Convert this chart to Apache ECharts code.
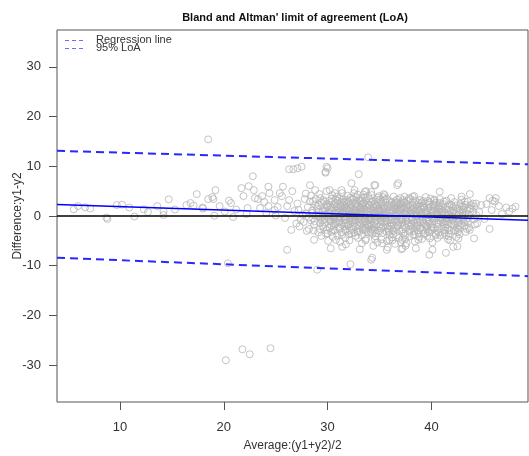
<!DOCTYPE html>
<html><head><meta charset="utf-8">
<script src="https://cdn.jsdelivr.net/npm/echarts@6/dist/echarts.min.js"></script>
<style>html,body{margin:0;padding:0;background:#fff}#c{width:529px;height:456px}</style>
</head><body><div id="c"></div>
<script>
const titleText = "Bland and Altman' limit of agreement (LoA)";
const xName = 'Average:(y1+y2)/2';
const yName = 'Difference:y1-y2';
const legendNames = ['Regression line', '95% LoA'];
const xTicks = [10, 20, 30, 40];
const yTicks = [-30, -20, -10, 0, 10, 20, 30];

const leftPoints = [[5.55,1.35],[5.96,2.0],[6.66,1.75],[7.14,1.5],[8.7,-0.3],[8.8,-0.6],[9.7,2.2],[10.2,2.3],[10.9,1.7],[11.4,-0.1],[12.3,1.35],[12.7,0.8],[13.6,2.0],[14.2,0.95],[14.7,3.35],[15.3,1.3],[14.2,0.2],[16.4,2.2],[16.8,2.6],[17.1,2.1],[17.4,4.4],[18.0,1.5],[18.5,3.4],[18.9,3.8],[19.1,0.05],[19.0,3.4],[19.2,5.2],[17.95,1.7],[20.5,3.1],[20.7,2.6],[21.7,5.6],[21.9,4.0],[22.4,6.0],[22.8,8.0],[22.9,5.2],[23.0,3.6],[22.3,1.6],[22.2,0.4],[23.3,3.4],[23.7,4.0],[24.3,5.9],[24.4,4.6],[24.9,3.2],[25.4,4.6],[25.6,4.0],[25.7,5.9],[26.3,9.4],[26.7,9.4],[27.1,9.6],[26.3,3.2],[26.1,2.0],[24.9,1.2],[24.3,2.0],[24.1,0.6],[23.5,1.6],[27.0,-1.5],[26.1,-6.8],[26.5,-2.8],[25.9,-0.4],[25.2,1.8],[26.6,5.0],[26.8,1.0],[25.0,0.1],[23.9,2.8],[21.2,1.3],[20.1,0.9],[19.6,2.0],[20.9,-0.2]];

const outlierPoints = [[18.5,15.4],[20.2,-29.0],[21.8,-26.8],[22.5,-27.8],[24.5,-26.6],[20.4,-9.5],[29.0,-10.8],[32.2,-9.7],[34.2,-8.8],[33.9,11.8],[30.0,9.6],[29.8,8.7],[33.0,8.4],[27.5,9.9],[29.9,9.9],[29.8,8.9]];

const fringePoints = [[28.3,6.2],[32.3,6.6],[34.6,6.2],[36.7,6.2],[33.6,4.9],[31.4,4.6],[30.2,5.2],[28.8,5.2],[34.3,-8.4],[35.7,-6.8],[30.3,-6.5],[28.7,-4.8],[33.1,-6.7],[37.1,-6.7],[37.6,-5.5],[31.4,-6.2],[30.8,-4.8],[32.6,5.2],[34.5,6.2],[36.8,6.6],[40.8,4.9],[33.7,5.0],[38.2,3.9],[37.4,3.9],[42.9,3.9],[43.5,2.9],[43.7,4.4]];

const rightPoints = [[44.8,2.2],[45.3,2.4],[45.9,3.1],[46.2,3.6],[46.5,2.0],[47.2,1.7],[47.8,1.5],[44.3,2.5],[43.8,1.5],[45.6,-2.6],[44.1,-4.5],[43.7,-2.8],[42.6,-4.5],[42.1,-6.2],[42.5,-6.1],[41.4,-7.4],[39.8,-7.8],[40.1,-6.8],[38.5,-6.5],[37.2,-6.5],[41.6,-4.7],[45.6,3.6],[46.1,2.9],[44.0,2.5],[44.6,0.8],[45.1,-0.6],[46.8,0.4],[44.4,-1.5],[45.8,1.2],[47.5,0.9],[48.1,1.9]];

const corePoints = [
[27.2,1.2],[27.4,-0.8],[27.1,2.5],[27.6,0.3],[27.3,-2.1],[27.8,3.4],[27.9,0.5],[28.1,1.8],[27.7,-1.2],[28.3,2.9],[28.2,-0.3],[28.4,4.1],[28.0,-3.0],[28.6,-0.5],[28.5,1.1],[28.8,2.3],[28.7,-1.8],[28.9,0.2],[28.6,3.0],[28.2,-2.6],[27.9,4.5],[28.4,-0.9],
[29.1,0.8],[29.3,-1.4],[29.0,1.9],[29.2,-0.2],[29.4,2.7],[29.1,-3.3],[29.3,3.6],[29.5,0.1],[29.6,-2.2],[29.8,1.5],[29.7,-0.6],[29.9,2.4],[29.5,-1.9],[29.8,0.4],[29.6,3.2],[29.9,-2.8],[29.4,-4.0],[29.7,1.0],[29.2,4.4],[30.1,-0.3],[30.2,1.3],[30.0,2.1],[30.3,-1.1],[30.1,0.6],[30.4,3.5],[30.2,-2.4],[30.0,-3.5],[30.4,2.8],[30.3,-0.9],[29.9,5.0],
[30.6,0.2],[30.7,-1.6],[30.5,1.7],[30.8,2.6],[30.6,-0.7],[30.9,3.9],[30.7,-2.9],[30.8,1.1],[30.5,-4.2],[30.9,0.7],[30.6,-2.0],[30.7,4.6],[31.1,1.4],[31.0,-0.4],[31.2,2.3],[31.1,-1.3],[31.3,0.3],[31.0,3.1],[31.2,-2.5],[31.4,-3.8],[31.3,1.9],[31.1,-0.1],[31.4,2.8],[31.2,-5.2],[31.6,-0.8],[31.5,0.9],[31.7,2.0],[31.6,-2.1],[31.8,1.5],[31.5,3.4],[31.7,-3.0],[31.9,0.0],[31.8,-1.5],[31.6,2.6],[31.9,4.1],[31.7,-4.4],[31.5,0.5],
[32.0,0.4],[32.1,-1.0],[32.2,1.8],[32.0,2.9],[32.3,-2.6],[32.1,1.1],[32.4,-0.5],[32.2,3.7],[32.3,-3.5],[32.4,0.8],[32.0,-1.8],[32.2,2.2],[32.1,-4.9],[32.6,-0.2],[32.5,1.3],[32.7,2.5],[32.6,-1.4],[32.8,0.6],[32.5,3.3],[32.7,-2.2],[32.9,-3.1],[32.8,1.9],[32.6,-0.9],[32.9,4.3],[32.7,-4.0],[32.5,0.1],[32.8,2.9],[33.1,0.9],[33.0,-0.6],[33.2,1.6],[33.1,-1.9],[33.3,2.4],[33.0,0.2],[33.2,3.6],[33.4,-2.8],[33.3,-3.9],[33.1,1.2],[33.4,-1.2],[33.2,2.9],[33.0,-0.1],[33.3,-5.5],
[33.6,0.0],[33.5,1.4],[33.7,-1.1],[33.6,2.2],[33.8,-2.4],[33.5,0.7],[33.7,3.1],[33.9,-3.3],[33.8,1.8],[33.6,-0.5],[33.9,4.0],[33.7,-4.6],[33.5,2.7],[33.8,-1.7],[34.1,-0.3],[34.0,1.0],[34.2,2.6],[34.1,-1.5],[34.3,0.4],[34.0,3.4],[34.2,-2.7],[34.4,1.6],[34.3,-3.6],[34.1,-0.8],[34.4,2.0],[34.0,-2.0],[34.2,4.8],[34.4,-6.0],[34.6,0.6],[34.5,-1.2],[34.7,1.9],[34.6,-0.2],[34.8,2.8],[34.5,-2.3],[34.7,1.2],[34.9,-3.0],[34.8,3.7],[34.6,-4.1],[34.9,0.2],[34.7,-1.7],[34.5,2.4],[34.8,-5.3],
[35.1,-0.5],[35.0,1.1],[35.2,2.3],[35.1,-1.6],[35.3,0.3],[35.0,3.2],[35.2,-2.5],[35.4,1.7],[35.3,-3.4],[35.1,-0.9],[35.4,4.4],[35.2,-4.7],[35.0,0.8],[35.6,0.1],[35.5,1.5],[35.7,-1.0],[35.6,2.7],[35.8,-2.1],[35.5,0.9],[35.7,3.5],[35.9,-3.2],[35.8,1.9],[35.6,-0.4],[35.9,-2.8],[35.5,4.2],[35.7,-5.0],[35.8,-6.3],[36.1,-0.1],[36.0,1.2],[36.2,2.1],[36.1,-1.4],[36.3,0.5],[36.0,3.0],[36.2,-2.6],[36.4,1.6],[36.3,-3.7],[36.1,-0.7],[36.4,2.5],[36.2,-4.3],
[36.6,0.4],[36.5,-0.9],[36.7,1.7],[36.6,2.6],[36.8,-1.9],[36.5,0.0],[36.7,3.3],[36.9,-3.0],[36.8,1.1],[36.6,-2.3],[36.9,-4.4],[36.7,0.8],[36.5,-5.6],[37.1,-0.4],[37.0,1.0],[37.2,2.0],[37.1,-1.3],[37.3,0.6],[37.0,3.6],[37.2,-2.7],[37.4,1.5],[37.3,-3.5],[37.1,-0.8],[37.4,2.8],[37.2,-4.8],[37.6,0.3],[37.5,-1.1],[37.7,1.4],[37.6,2.4],[37.8,-2.0],[37.5,0.9],[37.7,3.1],[37.9,-3.1],[37.8,-0.5],[37.6,1.9],[37.9,-4.1],[37.5,-6.0],
[38.1,-0.2],[38.0,1.1],[38.2,2.2],[38.1,-1.6],[38.3,0.4],[38.0,3.4],[38.2,-2.4],[38.4,-3.8],[38.3,1.6],[38.1,-0.9],[38.4,-5.1],[38.6,0.5],[38.5,-0.7],[38.7,1.8],[38.6,-1.9],[38.8,2.6],[38.5,0.0],[38.7,-2.9],[38.9,3.2],[38.8,-4.2],[38.6,1.2],[38.9,-1.3],[39.1,-0.3],[39.0,1.3],[39.2,-1.2],[39.1,2.1],[39.3,0.6],[39.0,-2.4],[39.2,3.0],[39.4,-3.5],[39.3,1.7],[39.1,-4.6],
[39.6,0.2],[39.5,-0.9],[39.7,1.6],[39.6,-2.0],[39.8,2.7],[39.5,0.8],[39.7,-3.1],[39.9,3.5],[39.8,-1.5],[39.6,-4.0],[40.1,-0.6],[40.0,1.0],[40.2,2.3],[40.1,-1.7],[40.3,0.3],[40.0,-2.8],[40.2,1.9],[40.4,-3.6],[40.3,3.1],[40.1,-5.3],[40.6,0.1],[40.5,-1.3],[40.7,1.5],[40.6,-2.2],[40.8,2.6],[40.5,0.7],[40.7,-3.3],[40.9,-0.5],[40.8,3.4],[40.6,-4.4],
[41.1,-0.4],[41.0,0.9],[41.2,-1.8],[41.1,1.9],[41.3,-2.9],[41.0,0.3],[41.2,2.9],[41.4,-3.9],[41.3,-1.0],[41.6,0.4],[41.5,-1.1],[41.7,1.3],[41.6,-2.5],[41.8,2.3],[41.5,-0.3],[41.7,-3.5],[41.9,3.6],[41.8,-4.9],[42.1,-0.8],[42.0,0.6],[42.2,-1.9],[42.1,1.8],[42.3,-3.0],[42.0,0.0],[42.2,2.8],[42.4,-4.2],
[42.6,0.2],[42.5,-1.4],[42.7,1.2],[42.6,-2.6],[42.8,2.4],[42.5,-0.5],[42.7,-3.7],[42.9,3.3],[43.1,-0.6],[43.0,0.8],[43.2,-2.0],[43.1,1.7],[43.3,-3.2],[43.0,0.1],[43.2,2.9],[43.6,0.3],[43.5,-1.2],[43.7,1.4],[43.6,-2.4],[43.8,2.2],[43.5,-0.4],[44.1,-0.7],[44.0,0.9],[44.2,-1.7],[44.1,1.9],[44.3,0.2]
];

const densePoints = [
[28.55,0.6],[28.75,-1.1],[28.95,1.4],[29.15,2.2],[29.35,-0.4],[29.55,0.9],[29.75,-1.3],[29.95,1.8],[28.85,3.4],[29.25,-2.6],[29.65,2.9],[29.85,-3.6],[28.65,-2.9],[29.45,-0.9],[29.05,0.0],
[30.05,0.5],[30.15,-0.8],[30.25,2.0],[30.35,-1.9],[30.45,1.0],[30.55,-0.2],[30.65,2.4],[30.75,0.6],[30.85,-1.2],[30.95,1.6],[30.15,3.0],[30.35,-3.2],[30.55,-2.7],[30.75,3.4],[30.95,-3.9],[30.25,0.0],[30.65,-0.4],[30.85,1.9],[30.45,4.2],[30.05,-5.0],
[31.05,0.7],[31.15,-0.9],[31.25,1.2],[31.35,-1.7],[31.45,2.1],[31.55,-0.1],[31.65,1.0],[31.75,-0.6],[31.85,2.4],[31.95,-2.0],[31.15,3.6],[31.35,-3.3],[31.55,2.9],[31.75,-2.7],[31.95,1.3],[31.25,-0.3],[31.45,0.4],[31.65,-1.4],[31.85,3.2],[31.05,-2.3],[31.35,5.2],[31.75,-5.7],
[32.05,0.9],[32.15,-0.4],[32.25,1.5],[32.35,-1.2],[32.45,2.7],[32.55,0.4],[32.65,-0.7],[32.75,1.1],[32.85,-1.9],[32.95,2.0],[32.15,-2.9],[32.35,3.4],[32.55,-3.3],[32.75,3.8],[32.95,-2.5],[32.25,-0.1],[32.45,-2.1],[32.65,2.3],[32.85,0.2],[32.05,-3.7],[32.55,4.6],[32.95,-4.4],[32.35,0.6],
[33.05,0.5],[33.15,-1.4],[33.25,0.9],[33.35,1.9],[33.45,-0.4],[33.55,-1.0],[33.65,1.2],[33.75,0.3],[33.85,-0.9],[33.95,2.3],[33.15,3.2],[33.35,-2.4],[33.55,3.7],[33.75,-3.0],[33.95,-1.9],[33.05,-3.2],[33.25,-0.8],[33.45,2.5],[33.65,-2.7],[33.85,0.9],[33.45,4.3],[33.65,-4.9],[33.15,1.7],
[34.05,0.1],[34.15,1.5],[34.25,-0.6],[34.35,1.1],[34.45,-1.9],[34.55,0.9],[34.65,-0.9],[34.75,2.2],[34.85,-0.1],[34.95,1.4],[34.15,-3.2],[34.35,3.0],[34.55,-2.8],[34.75,3.3],[34.95,-2.1],[34.05,2.2],[34.25,-1.8],[34.45,0.0],[34.65,-3.5],[34.85,1.0],[34.25,4.2],[34.55,-4.6],[34.95,4.0],
[35.05,0.4],[35.15,-1.2],[35.25,1.3],[35.35,-0.3],[35.45,2.0],[35.55,-1.6],[35.65,0.5],[35.75,1.2],[35.85,-0.8],[35.95,2.2],[35.15,2.8],[35.35,-2.2],[35.55,3.3],[35.75,-2.5],[35.95,-3.8],[35.05,-3.0],[35.25,0.0],[35.45,-1.1],[35.65,-3.1],[35.85,0.4],[35.35,3.8],[35.95,-4.8],[35.25,-5.5],
[36.05,0.7],[36.15,-0.4],[36.25,1.0],[36.35,-1.8],[36.45,0.1],[36.55,1.3],[36.65,-1.2],[36.75,2.1],[36.85,0.3],[36.95,-0.6],[36.15,2.7],[36.35,-3.0],[36.55,3.0],[36.75,-2.0],[36.95,1.5],[36.05,-2.1],[36.25,-0.9],[36.45,2.2],[36.65,-3.9],[36.85,-1.4],[36.35,3.9],[36.95,2.6],[36.25,-4.9],
[37.05,0.2],[37.15,1.6],[37.25,-0.7],[37.35,-1.9],[37.45,0.5],[37.55,-0.3],[37.65,1.0],[37.75,-1.5],[37.85,0.7],[37.95,1.8],[37.15,-3.1],[37.35,2.7],[37.55,-2.4],[37.75,2.2],[37.95,-2.6],[37.05,2.4],[37.25,3.2],[37.45,-3.9],[37.65,-0.9],[37.85,3.6],[37.45,-4.6],[37.05,-5.3],
[38.05,0.6],[38.15,-0.5],[38.25,1.3],[38.35,-1.3],[38.45,0.9],[38.55,-2.2],[38.65,0.0],[38.75,1.1],[38.85,-0.8],[38.95,0.6],[38.15,2.8],[38.35,-3.0],[38.55,2.2],[38.75,-3.4],[38.95,2.0],[38.05,-2.0],[38.25,-3.8],[38.45,3.1],[38.65,-1.3],[38.85,-2.5],[38.35,4.0],[38.75,-4.8],
[39.05,0.3],[39.15,-0.7],[39.25,1.7],[39.35,-1.6],[39.45,0.7],[39.55,-0.3],[39.65,1.1],[39.75,-1.1],[39.85,0.1],[39.95,1.9],[39.15,-2.8],[39.35,2.5],[39.55,-2.6],[39.75,2.3],[39.95,-2.3],[39.05,2.7],[39.25,-3.6],[39.45,-1.9],[39.65,3.0],[39.85,-3.3],[39.45,3.8],[39.85,-4.5],
[40.05,-0.1],[40.15,0.8],[40.25,-1.0],[40.35,1.4],[40.45,-0.4],[40.55,0.6],[40.65,-1.6],[40.75,0.9],[40.85,-0.9],[40.95,1.2],[40.15,-2.4],[40.35,2.3],[40.55,-2.9],[40.75,2.0],[40.95,-2.5],[40.25,3.3],[40.45,-3.8],[40.65,1.7],[40.85,-3.9],[40.45,2.7],
[41.05,0.1],[41.15,-1.3],[41.25,0.6],[41.35,-0.5],[41.45,1.4],[41.55,-1.7],[41.65,0.2],[41.75,-0.7],[41.85,1.0],[41.95,-1.6],[41.15,2.4],[41.35,-2.3],[41.55,2.0],[41.75,-2.9],[41.95,2.1],[41.25,-3.4],[41.45,3.1],[41.65,-4.1],[41.85,-0.2],
[42.05,-0.3],[42.15,1.1],[42.25,-1.2],[42.35,0.5],[42.45,-2.3],[42.55,1.5],[42.65,-0.9],[42.75,0.7],[42.85,-1.6],[42.95,1.9],[42.15,-2.8],[42.35,2.1],[42.55,-3.2],[42.75,-2.0],[42.95,-0.2],[43.05,1.3],[43.15,-1.2],[43.25,0.4],[43.35,-0.9],[43.45,1.2],[43.3,2.2],[43.4,-2.6]
];

const upperLoA = [[3.94, 13.1], [49.3, 10.4]];
const lowerLoA = [[3.94, -8.4], [49.3, -12.1]];
const regressionLine = [[3.94, 2.3], [49.3, -0.85]];
const zeroLine = [[3.94, 0], [49.3, 0]];

const xMin = 3.94, xMax = 49.3, yMin = -37.4, yMax = 37.4;

const allPoints = leftPoints.concat(corePoints, densePoints, fringePoints, rightPoints, outlierPoints);
const font = 'Liberation Sans, Arial, sans-serif';

const chart = echarts.init(document.getElementById('c'), null, {renderer: 'canvas'});
chart.setOption({
  animation: false,
  backgroundColor: '#fff',
  title: {
    text: titleText, left: 290, top: 7, textAlign: 'center',
    textStyle: {fontFamily: font, fontSize: 11, fontWeight: 'bold', color: '#111'}
  },
  grid: {left: 57, right: 1, top: 30, bottom: 54, show: true, borderColor: '#555', borderWidth: 1,
         containLabel: false, outerBoundsMode: 'none'},
  xAxis: {
    type: 'value', min: xMin, max: xMax,
    axisLine: {show: false, onZero: false},
    axisTick: {show: true, length: 8, customValues: xTicks, lineStyle: {color: '#555'}},
    axisLabel: {customValues: xTicks, margin: 19, fontFamily: font, fontSize: 13, color: '#333'},
    splitLine: {show: false},
    name: xName, nameLocation: 'middle', nameGap: 38,
    nameTextStyle: {fontFamily: font, fontSize: 12, color: '#333'}
  },
  yAxis: {
    type: 'value', min: yMin, max: yMax,
    axisLine: {show: false, onZero: false},
    axisTick: {show: true, length: 8, customValues: yTicks, lineStyle: {color: '#555'}},
    axisLabel: {customValues: yTicks, margin: 16, fontFamily: font, fontSize: 13, color: '#333'},
    splitLine: {show: false}
  },
  graphic: [
    {type: 'text', x: 17.5, y: 216, rotation: Math.PI / 2,
     style: {text: yName, font: '12px ' + font, fill: '#333', textAlign: 'center', textVerticalAlign: 'middle'}},
    {type: 'line', shape: {x1: 65, y1: 40.5, x2: 84, y2: 40.5}, style: {stroke: '#6a6aff', lineWidth: 1, lineDash: [4, 3]}},
    {type: 'line', shape: {x1: 65, y1: 48.5, x2: 84, y2: 48.5}, style: {stroke: '#6a6aff', lineWidth: 1, lineDash: [4, 3]}},
    {type: 'text', left: 96, top: 34, style: {text: legendNames[0], font: '11px ' + font, fill: '#333'}},
    {type: 'text', left: 96, top: 42, style: {text: legendNames[1], font: '11px ' + font, fill: '#333'}}
  ],
  series: [
    {type: 'scatter', data: allPoints, symbol: 'circle', symbolSize: 7,
     itemStyle: {color: 'rgba(255,255,255,0)', borderColor: '#b5b5b5', borderWidth: 1}, z: 2, silent: true},
    {type: 'line', data: zeroLine, symbol: 'none', lineStyle: {color: '#000', width: 1.5}, z: 3},
    {type: 'line', data: regressionLine, symbol: 'none', lineStyle: {color: '#0000ff', width: 1.6}, z: 4},
    {type: 'line', data: upperLoA, symbol: 'none', lineStyle: {color: '#2828ff', width: 2, type: [8, 5]}, z: 4},
    {type: 'line', data: lowerLoA, symbol: 'none', lineStyle: {color: '#2828ff', width: 2, type: [8, 5]}, z: 4}
  ]
});
</script>
</body></html>
